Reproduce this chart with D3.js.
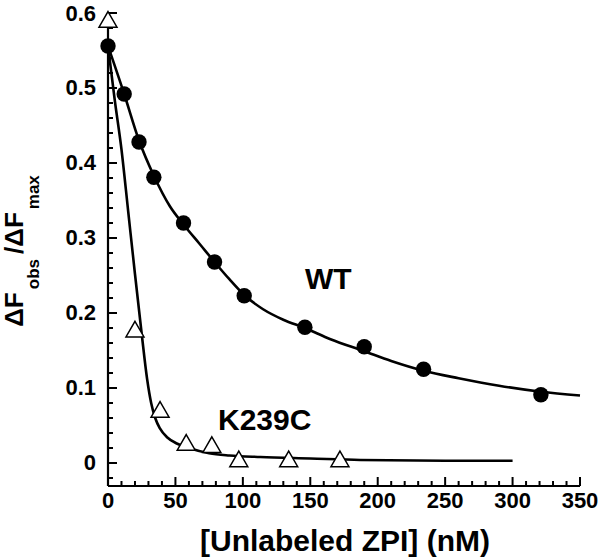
<!DOCTYPE html>
<html>
<head>
<meta charset="utf-8">
<script src="https://cdn.jsdelivr.net/npm/d3@7"></script>
<style>
  html, body { margin: 0; padding: 0; background: #fff; }
  svg text { font-family: "Liberation Sans", Arial, Helvetica, sans-serif; font-weight: bold; fill: #000; }
</style>
</head>
<body>
<svg id="chart" width="600" height="559"></svg>
<script>
// ---- data ----
const wtConc = [0, 12, 23, 34, 56, 79, 101, 146, 190, 234, 321];
const wtSignal = [0.556, 0.492, 0.428, 0.381, 0.320, 0.268, 0.223, 0.181, 0.155, 0.125, 0.091];

const k239cConc = [0, 20, 38.6, 58, 77, 97, 134, 172];
const k239cSignal = [0.588, 0.175, 0.068, 0.024, 0.021, 0.002, 0.002, 0.002];

// fitted curves, read point-by-point off the picture
const wtFitConc = [0, 12, 23, 34, 46, 56, 68, 79, 90, 101, 115, 130, 146, 165, 190, 210, 234, 260, 290, 321, 350];
const wtFitSignal = [0.556, 0.492, 0.430, 0.383, 0.342, 0.318, 0.292, 0.268, 0.245, 0.224, 0.205, 0.191, 0.180, 0.165, 0.149, 0.136, 0.123, 0.113, 0.103, 0.095, 0.090];

const k239cFitConc = [0, 5, 10, 15, 20, 25, 29, 32, 35, 38.5, 44, 51, 60, 75, 90, 113, 150, 187, 250, 300];
const k239cFitSignal = [0.556, 0.484, 0.418, 0.335, 0.252, 0.172, 0.112, 0.080, 0.060, 0.046, 0.034, 0.026, 0.020, 0.013, 0.010, 0.008, 0.006, 0.004, 0.003, 0.003];

const xMajorTicks = [0, 50, 100, 150, 200, 250, 300, 350];
const yMajorTicks = [0, 0.1, 0.2, 0.3, 0.4, 0.5, 0.6];
const yTickLabels = ["0", "0.1", "0.2", "0.3", "0.4", "0.5", "0.6"];

// ---- layout ----
const svg = d3.select("#chart");
const x = d3.scaleLinear().domain([0, 350]).range([108, 580]);
const y = d3.scaleLinear().domain([-0.0307, 0.6]).range([486, 13]);

const axisG = svg.append("g");
axisG.append("line").attr("x1", x(0)).attr("x2", x(0)).attr("y1", y(0.6)).attr("y2", y.range()[0])
  .attr("stroke", "#000").attr("stroke-width", 2.2);
axisG.append("line").attr("x1", x(0)).attr("x2", x(350)).attr("y1", y.range()[0]).attr("y2", y.range()[0])
  .attr("stroke", "#000").attr("stroke-width", 2.2);

const xMinor = d3.range(0, 351, 10);
axisG.selectAll(".xt").data(xMinor).join("line")
  .attr("x1", d => x(d)).attr("x2", d => x(d))
  .attr("y1", y.range()[0])
  .attr("y2", d => y.range()[0] - (d % 50 === 0 ? 9 : 5))
  .attr("stroke", "#000").attr("stroke-width", 2);

const yMinor = d3.range(-1, 31).map(i => i * 0.02);
axisG.selectAll(".yt").data(yMinor).join("line")
  .attr("x1", x(0))
  .attr("x2", (d, i) => x(0) + ((i - 1) % 5 === 0 ? 9 : 5))
  .attr("y1", d => y(d)).attr("y2", d => y(d))
  .attr("stroke", "#000").attr("stroke-width", 2);

axisG.selectAll(".xl").data(xMajorTicks).join("text")
  .attr("x", d => x(d)).attr("y", 508)
  .attr("text-anchor", "middle").attr("font-size", 22)
  .text(d => d);
axisG.selectAll(".yl").data(yMajorTicks).join("text")
  .attr("x", 96).attr("y", d => y(d))
  .attr("text-anchor", "end").attr("dominant-baseline", "central").attr("font-size", 22)
  .text((d, i) => yTickLabels[i]);

svg.append("text").attr("x", 345).attr("y", 551).attr("text-anchor", "middle")
  .attr("font-size", 30).text("[Unlabeled ZPI] (nM)");

const yt = svg.append("text").attr("transform", "translate(23,251) rotate(-90)")
  .attr("text-anchor", "middle").attr("font-size", 26);
yt.append("tspan").text("ΔF");
yt.append("tspan").attr("font-size", 17).attr("dy", 16).attr("dx", 3).text("obs");
yt.append("tspan").attr("dy", -16).attr("dx", 5).text("/ΔF");
yt.append("tspan").attr("font-size", 17).attr("dy", 16).attr("dx", 3).text("max");

const line = d3.line().x(d => x(d[0])).y(d => y(d[1])).curve(d3.curveMonotoneX);
svg.append("path").datum(d3.zip(wtFitConc, wtFitSignal)).attr("d", line)
  .attr("fill", "none").attr("stroke", "#000").attr("stroke-width", 2.6);
svg.append("path").datum(d3.zip(k239cFitConc, k239cFitSignal)).attr("d", line)
  .attr("fill", "none").attr("stroke", "#000").attr("stroke-width", 2.6);

svg.selectAll(".wt").data(d3.zip(wtConc, wtSignal)).join("circle")
  .attr("cx", d => x(d[0])).attr("cy", d => y(d[1])).attr("r", 7.7).attr("fill", "#000");

const tri = d3.symbol().type(d3.symbolTriangle).size(140);
svg.selectAll(".k").data(d3.zip(k239cConc, k239cSignal)).join("path")
  .attr("d", tri)
  .attr("transform", d => `translate(${x(d[0])},${y(d[1])})`)
  .attr("fill", "#fff").attr("stroke", "#000").attr("stroke-width", 1.5);

svg.append("text").attr("x", 305).attr("y", 289).attr("font-size", 30).text("WT");
svg.append("text").attr("x", 218).attr("y", 430).attr("font-size", 30).text("K239C");
</script>
</body>
</html>
